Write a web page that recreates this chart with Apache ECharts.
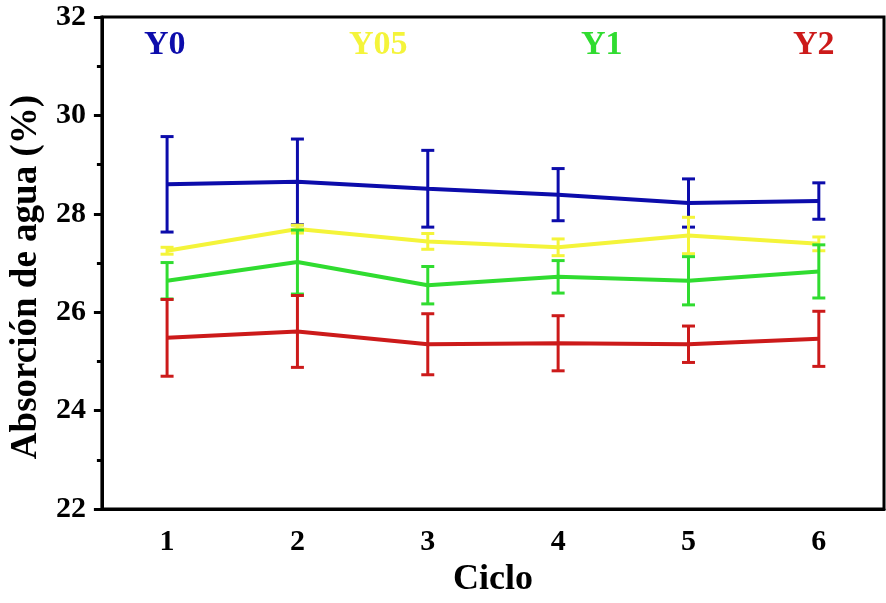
<!DOCTYPE html>
<html>
<head>
<meta charset="utf-8">
<script src="https://cdn.jsdelivr.net/npm/echarts@6/dist/echarts.min.js"></script>
<style>
  html, body { margin: 0; padding: 0; background: #fff; }
  #chart { width: 886px; height: 603px; }
</style>
</head>
<body>
<div id="chart"></div>
<script>
// Water absorption per cycle, mean and standard deviation
const cycles = ['1', '2', '3', '4', '5', '6'];

const y0Mean = [28.60, 28.65, 28.51, 28.39, 28.22, 28.26];
const y0Err  = [0.97, 0.87, 0.78, 0.53, 0.49, 0.37];

const y05Mean = [27.25, 27.69, 27.44, 27.32, 27.56, 27.39];
const y05Err  = [0.07, 0.08, 0.16, 0.17, 0.37, 0.14];

const y1Mean = [26.64, 27.02, 26.55, 26.72, 26.64, 26.83];
const y1Err  = [0.37, 0.65, 0.38, 0.33, 0.49, 0.54];

const y2Mean = [25.48, 25.61, 25.35, 25.37, 25.35, 25.46];
const y2Err  = [0.78, 0.73, 0.62, 0.56, 0.37, 0.56];

const groups = [
  { name: 'Y0',  mean: y0Mean,  err: y0Err,  color: '#0c0cab', legendLeft: 139 },
  { name: 'Y05', mean: y05Mean, err: y05Err, color: '#f4f43a', legendLeft: 344 },
  { name: 'Y1',  mean: y1Mean,  err: y1Err,  color: '#30dc30', legendLeft: 576 },
  { name: 'Y2',  mean: y2Mean,  err: y2Err,  color: '#cc1a1a', legendLeft: 788 }
];

const FONT = '"Liberation Serif", "Times New Roman", serif';

function errorBarRenderer(color) {
  return function (params, api) {
    const x = api.value(0);
    const lo = api.coord([x, api.value(1)]);
    const hi = api.coord([x, api.value(2)]);
    const half = 6.5;
    const style = { stroke: color, lineWidth: 3 };
    return {
      type: 'group',
      children: [
        { type: 'line', shape: { x1: lo[0], y1: lo[1], x2: hi[0], y2: hi[1] }, style: style },
        { type: 'line', shape: { x1: lo[0] - half, y1: lo[1], x2: lo[0] + half, y2: lo[1] }, style: style },
        { type: 'line', shape: { x1: hi[0] - half, y1: hi[1], x2: hi[0] + half, y2: hi[1] }, style: style }
      ]
    };
  };
}

const series = [];
groups.forEach(function (g, gi) {
  series.push({
    name: g.name,
    type: 'line',
    data: g.mean,
    symbol: 'none',
    lineStyle: { color: g.color, width: 4 },
    itemStyle: { color: g.color },
    z: 3 + gi
  });
  series.push({
    name: g.name + ' error',
    type: 'custom',
    renderItem: errorBarRenderer(g.color),
    data: g.mean.map(function (m, i) { return [i, m - g.err[i], m + g.err[i]]; }),
    encode: { x: 0, y: [1, 2] },
    z: 3 + gi,
    silent: true
  });
});

const legends = groups.map(function (g) {
  return {
    data: [{ name: g.name, icon: 'none' }],
    left: g.legendLeft,
    top: 28,
    padding: 0,
    itemWidth: 0,
    itemHeight: 0,
    selectedMode: false,
    textStyle: { color: g.color, fontFamily: FONT, fontWeight: 'bold', fontSize: 34 }
  };
});

const chart = echarts.init(document.getElementById('chart'), null, { renderer: 'canvas' });
chart.setOption({
  animation: false,
  backgroundColor: '#fff',
  legend: legends,
  grid: {
    left: 100, right: 2, top: 17, bottom: 88,
    show: true, borderColor: '#000', borderWidth: 3, backgroundColor: 'transparent'
  },
  xAxis: {
    type: 'category',
    data: cycles,
    boundaryGap: true,
    name: 'Ciclo',
    nameLocation: 'middle',
    nameGap: 48,
    nameTextStyle: { fontFamily: FONT, fontWeight: 'bold', fontSize: 36, color: '#000' },
    axisLine: { lineStyle: { color: '#000', width: 3 } },
    axisTick: { alignWithLabel: true, length: 8, lineStyle: { color: '#000', width: 3 } },
    axisLabel: { fontFamily: FONT, fontWeight: 'bold', fontSize: 30, color: '#000', margin: 18 },
    splitLine: { show: false }
  },
  yAxis: {
    type: 'value',
    min: 22,
    max: 32,
    interval: 2,
    name: 'Absorción de agua (%)',
    nameLocation: 'middle',
    nameGap: 55,
    nameTextStyle: { fontFamily: FONT, fontWeight: 'bold', fontSize: 37, color: '#000', padding: [0, 28, 0, 0] },
    axisLine: { show: true, lineStyle: { color: '#000', width: 3 } },
    axisTick: { show: true, length: 8, lineStyle: { color: '#000', width: 3 } },
    minorTick: { show: true, splitNumber: 2, length: 5, lineStyle: { color: '#000', width: 3 } },
    axisLabel: { fontFamily: FONT, fontWeight: 'bold', fontSize: 30, color: '#000', margin: 16 },
    splitLine: { show: false }
  },
  series: series
});
</script>
</body>
</html>
